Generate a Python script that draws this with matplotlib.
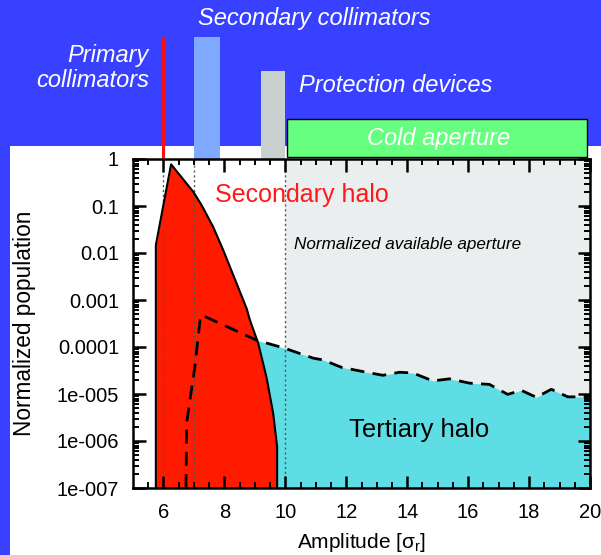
import matplotlib
matplotlib.use('Agg')
import matplotlib.pyplot as plt
from matplotlib.patches import Rectangle
from matplotlib.ticker import FixedLocator, FixedFormatter, LogLocator, NullFormatter, MultipleLocator

plt.rcParams['font.family'] = ['Liberation Sans', 'DejaVu Sans']
plt.rcParams['mathtext.fontset'] = 'custom'
plt.rcParams['mathtext.rm'] = 'Liberation Sans'
plt.rcParams['mathtext.it'] = 'Liberation Sans:italic'
for a in ('xtick', 'ytick'):
    plt.rcParams[f'{a}.direction'] = 'in'
    plt.rcParams[f'{a}.major.size'] = 0
    plt.rcParams[f'{a}.minor.size'] = 0
    plt.rcParams[f'{a}.labelsize'] = 14.5
    plt.rcParams[f'{a}.color'] = 'black'
plt.rcParams['xtick.major.pad'] = 11
plt.rcParams['ytick.major.pad'] = 10

# ── data ─────────────────────────────────────────────
secondary_x = [5.75, 6.25, 6.98, 7.25, 7.63, 7.96, 8.29, 8.73, 8.84, 9.11, 9.38, 9.6, 9.73, 9.73]
secondary_y = [0.0148, 0.77, 0.20, 0.105, 0.036, 0.0116, 0.0034, 6.6e-4, 3.7e-4, 1.2e-4, 2.3e-5, 3.9e-6, 7.6e-7, 1e-7]

tertiary_x = [6.74, 6.76, 6.87, 7.03, 7.2, 7.25, 9.05, 9.98, 10.91, 11.24, 11.84, 12.55, 13.2,
              13.75, 14.19, 14.84, 15.39, 16.05, 16.7, 17.3, 17.74, 18.24, 18.73, 19.27, 19.87, 20.0]
tertiary_y = [1e-7, 2.4e-6, 7.5e-6, 3.8e-5, 3.7e-4, 4.8e-4, 1.4e-4, 9.4e-5, 5.8e-5, 5.3e-5, 3.7e-5, 3.0e-5, 2.5e-5,
              2.9e-5, 2.8e-5, 1.9e-5, 2.1e-5, 1.7e-5, 1.6e-5, 9.8e-6, 1.2e-5, 8.5e-6, 1.26e-5, 8.7e-6, 8.7e-6, 9e-6]

primary_pos = 6.0
secondary_coll = (7.0, 7.85)
protection = (9.2, 10.0)
cold_aperture = (10.05, 19.9)

y_ticks = [1, 0.1, 0.01, 0.001, 1e-4, 1e-5, 1e-6, 1e-7]
y_labels = ['1', '0.1', '0.01', '0.001', '0.0001', '1e-005', '1e-006', '1e-007']
x_ticks = [6, 8, 10, 12, 14, 16, 18, 20]

# ── colours ──────────────────────────────────────────
BLUE = '#3741ff'
RED = '#ff1a00'
CYAN = '#5fdde5'
LGRAY = '#ebeeee'

W, H = 601, 555
fig = plt.figure(figsize=(W / 100, H / 100), dpi=100, facecolor=BLUE)
fig.patches.append(Rectangle((10 / W, 0), 1, (H - 146) / H, transform=fig.transFigure,
                             facecolor='white', edgecolor='none', zorder=-1))

ax_l, ax_r, ax_t, ax_b = 133, 590, 159, 488
ax = fig.add_axes([ax_l / W, 1 - ax_b / H, (ax_r - ax_l) / W, (ax_b - ax_t) / H])
ax.set_facecolor('white')
ax.set_yscale('log')
XLIM, YLIM = (5, 20), (1e-7, 1)
ax.set_xlim(*XLIM)
ax.set_ylim(*YLIM)

# available aperture background
ax.axvspan(10, 20, color=LGRAY, zorder=0, lw=0)
# tertiary halo under dashed line
ax.fill_between(tertiary_x, tertiary_y, 1e-7, color=CYAN, lw=0, zorder=0.5)
# secondary halo
ax.fill_between(secondary_x, secondary_y, 1e-7, color=RED, lw=0, zorder=0.8)
for xv in (primary_pos, secondary_coll[0], protection[1]):
    ax.axvline(xv, color='#555555', ls=(0, (1.5, 2)), lw=1, zorder=0.9)
dash, = ax.plot(tertiary_x, tertiary_y, color='black', lw=2, zorder=1.0)
dash.set_dashes((5, 3))
ax.plot([secondary_x[0]] + secondary_x, [1e-7] + secondary_y, color='black', lw=1.5, zorder=1.1)

ax.text(7.69, 0.17, 'Secondary halo', color='#ff1a1a', fontsize=18, va='center', zorder=5)
ax.text(12.1, 1.7e-6, 'Tertiary halo', color='black', fontsize=18.5, va='center', zorder=5)
ax.text(10.3, 0.0148, 'Normalized available aperture', color='black', fontsize=12.3,
        style='italic', va='center', zorder=5)

# ── axes styling ─────────────────────────────────────
ax.yaxis.set_major_locator(FixedLocator(y_ticks))
ax.yaxis.set_major_formatter(FixedFormatter(y_labels))
ax.yaxis.set_minor_locator(LogLocator(base=10, subs=range(2, 10), numticks=20))
ax.yaxis.set_minor_formatter(NullFormatter())
ax.xaxis.set_major_locator(FixedLocator(x_ticks))
ax.xaxis.set_minor_locator(MultipleLocator(0.5))
for s in ax.spines.values():
    s.set_linewidth(1.8)
    s.set_zorder(12)

# inward tick marks on all four sides, drawn as short segments
x_minor = [v for v in ax.xaxis.get_minorticklocs() if XLIM[0] < v < XLIM[1]]
y_minor = [v for v in ax.yaxis.get_minorticklocs() if YLIM[0] < v < YLIM[1]]
xt = ax.get_xaxis_transform()
yt = ax.get_yaxis_transform()
hx = 12.5 / (ax_b - ax_t)   # major tick length as axes fraction (vertical)
hy = 12.5 / (ax_r - ax_l)   # major tick length as axes fraction (horizontal)
for locs, f, lw in ((x_ticks, 1.0, 1.8), (x_minor, 0.5, 1.4)):
    ax.vlines(locs, 0, hx * f, transform=xt, colors='black', lw=lw, clip_on=False, zorder=11)
    ax.vlines(locs, 1 - hx * f, 1, transform=xt, colors='black', lw=lw, clip_on=False, zorder=11)
for locs, f, lw in ((y_ticks, 1.0, 1.8), (y_minor, 0.5, 1.4)):
    ax.hlines(locs, 0, hy * f, transform=yt, colors='black', lw=lw, clip_on=False, zorder=11)
    ax.hlines(locs, 1 - hy * f, 1, transform=yt, colors='black', lw=lw, clip_on=False, zorder=11)
ax.set_xlim(*XLIM)
ax.set_ylim(*YLIM)

ax.set_xlabel('Amplitude [σ$_\\mathrm{r}$]', fontsize=15, labelpad=6)
ax.set_ylabel('Normalized population', fontsize=16.3, labelpad=15)

# ── devices above the plot ───────────────────────────
bt = ax.get_xaxis_transform()
ax.plot([primary_pos, primary_pos], [1.0, 1.368], transform=bt, color='#ff1010', lw=2.2,
        clip_on=False, zorder=7)
ax.add_patch(Rectangle((secondary_coll[0], 1.0), secondary_coll[1] - secondary_coll[0], 0.371,
                       transform=bt, facecolor='#80aaff', edgecolor='none', clip_on=False))
ax.add_patch(Rectangle((protection[0], 1.0), protection[1] - protection[0], 0.267,
                       transform=bt, facecolor='#c8d0d0', edgecolor='none', clip_on=False))
ax.add_patch(Rectangle((cold_aperture[0], 1.006), cold_aperture[1] - cold_aperture[0], 0.116,
                       transform=bt, facecolor='#66ff80', edgecolor='black', lw=1, clip_on=False))
ax.set_xlim(*XLIM)
ax.set_ylim(*YLIM)

fig.text(314 / W, 1 - 18 / H, 'Secondary collimators', color='white', style='italic',
         fontsize=17, ha='center', va='center')
fig.text(149 / W, 1 - 68 / H, 'Primary\ncollimators', color='white', style='italic',
         fontsize=17, ha='right', va='center', linespacing=1.15)
fig.text(299 / W, 1 - 86 / H, 'Protection devices', color='white', style='italic',
         fontsize=17, ha='left', va='center')
fig.text(439 / W, 1 - 138 / H, 'Cold aperture', color='white', style='italic',
         fontsize=17, ha='center', va='center')

fig.savefig('out.png', dpi=100, facecolor=BLUE)
